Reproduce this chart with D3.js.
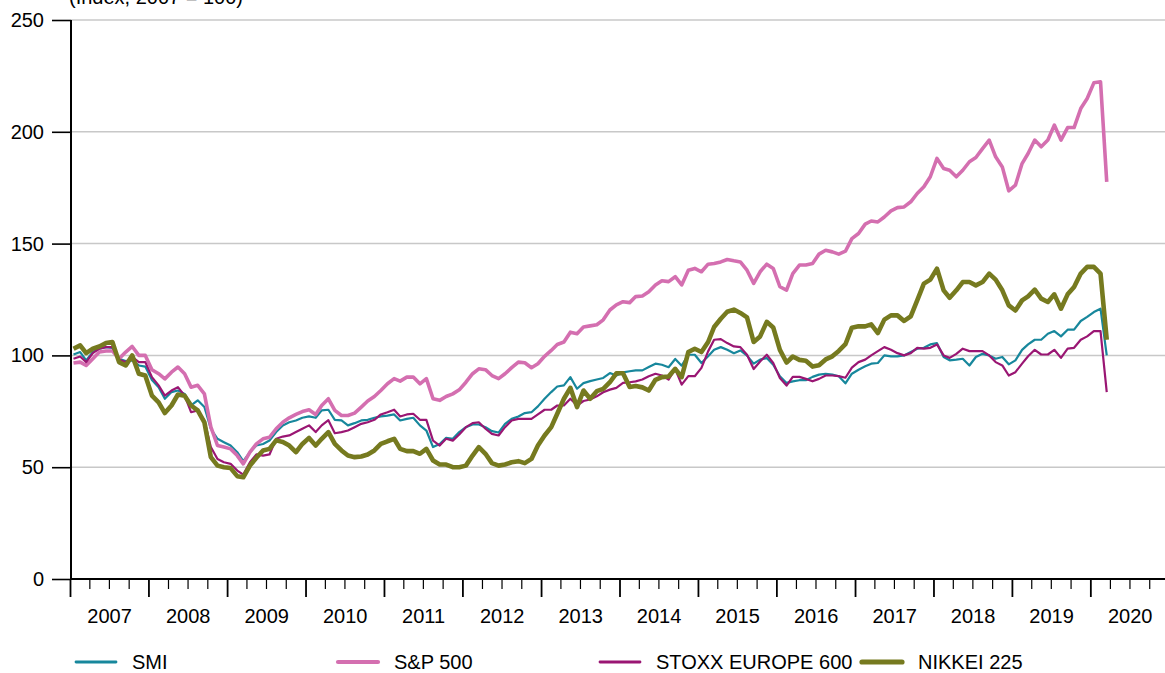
<!DOCTYPE html>
<html><head><meta charset="utf-8">
<script src="https://cdn.jsdelivr.net/npm/d3@7"></script>
<style>
html,body{margin:0;padding:0;background:#fff;}
svg{display:block;font-family:"Liberation Sans",Arial,Helvetica,sans-serif;}
</style></head>
<body><svg id="chart" width="1165" height="673"></svg>
<script>
// Monthly values, Jan 2007 .. Mar 2020 (index, 2007 = 100)
const startYear = 2007;
const yTicks = [0, 50, 100, 150, 200, 250];
const yearLabels = ["2007","2008","2009","2010","2011","2012","2013","2014","2015","2016","2017","2018","2019","2020"];
const seriesNames = ["SMI", "S&P 500", "STOXX EUROPE 600", "NIKKEI 225"];

const smi = [100.4,101.5,97.8,101.5,103,103.7,103.4,98.5,97.5,97.8,95.5,95,89,85.8,80.6,83.6,84.3,82.8,77.6,79.9,
76.9,67.2,62.7,61.2,59.7,56.7,52.7,56.7,59.7,60.4,61.9,65.7,68.7,70.1,70.9,72.1,72.7,72.1,75.4,75.7,
71.2,70.9,68.7,69.7,70.9,71.2,72.1,72.7,73.1,73.6,70.9,71.6,72.1,68.7,66.4,59,60.4,63.1,62.7,65.7,
67.9,69.1,69.1,67.9,66.1,65.5,69.4,71.6,72.7,74.2,74.6,77.2,80.6,83.6,86.1,86.6,90.3,85.1,87.6,88.5,
89.2,89.9,92.1,91,92.4,92.9,93.3,93.3,94.8,96.3,95.8,94.7,98.4,95.4,100.3,100.3,96.6,99.6,102.5,103.7,
102.5,101,102.2,99.9,96.3,98.1,98.8,95.8,90.7,87.7,88.4,88.9,88.9,90.4,91.4,91.8,91.4,90.7,87.5,
91.8,93.6,95.1,96.3,96.6,100,99.6,99.6,100,101.5,103,103.4,104.9,105.5,99.3,97.8,98.1,98.5,95.5,99.3,
100.7,100,98.5,99.3,96,97.8,102.5,104.9,107,107,109.7,110.9,108.5,111.5,111.5,115.4,117.2,119.4,120.9,100];

const sp500 = [96.6,97,95.5,98.5,101.5,102,102,98.5,101.5,104,100,100,93.6,91.8,89.5,92.5,94.8,91.8,85.8,86.6,
82.8,68,59.7,59,58.2,55.2,51.5,56.7,60.4,62.7,63.4,67.2,70.1,72.1,73.6,74.9,75.7,73.6,77.6,80.6,
75.4,73.1,73.1,74.2,76.9,79.6,81.6,84.3,87.3,89.6,88.5,90.3,90.3,87.3,89.6,80.6,79.9,81.6,82.8,84.6,
88,91.8,94,93.6,91,89.6,91.8,94.5,97,96.7,94.5,96.3,99.6,102.2,104.9,106,110.4,109.7,112.7,
113.2,113.7,115.9,120.3,122.6,124,123.6,126.3,126.6,128.5,131.5,133.4,133,135.2,131.5,138.1,138.9,137.4,140.8,141.1,
141.8,142.9,142.3,141.8,138.1,132.2,137.4,140.8,138.9,130.7,129.2,136.6,140.4,140.4,141.1,145.3,147,146.3,145.3,146.6,
152.2,154.5,158.7,160.1,159.7,161.9,164.6,166.1,166.4,168.7,172.4,175.4,179.9,188.1,183.6,182.8,179.9,182.8,186.6,188.5,
192.5,196.3,188.8,184.3,173.6,176.1,185.8,190.3,196.3,193.3,196.3,203,196.3,201.9,201.9,210.4,214.9,221.9,222.4,177.6];

const stoxx600 = [98.5,99.5,97,101,103,103.7,103.7,98,97,99.3,97,97,90.3,86.6,82,84.3,85.8,82,74.6,75.4,
71,59,53.7,52.2,51.5,48.5,46.7,52.2,55.7,55.2,55.7,62.7,63.7,64.2,65.7,67.2,68.7,65.7,68.7,71,
65.2,65.7,66.4,67.9,69.4,70.1,71.2,73.6,74.6,75.7,72.7,73.6,73.9,71.2,71.2,61.9,59.7,62.7,61.9,64.6,
67.9,69.7,70.1,67.2,64.9,64.2,67.9,70.9,71.6,71.6,71.6,73.6,75.7,75.7,77.6,77.6,80.6,77.6,79.6,80.3,
81.7,83.5,84.7,85.5,87.7,88,88.4,89.2,90.7,91.8,91,89.2,93.9,86.9,90.7,90.7,94.4,101.8,107,107.3,
105.5,104,103.7,100.3,93.9,97.3,100.3,96.6,89.9,86.5,90.4,90.4,89.5,88.4,89.5,91,91,90.7,90,
94.5,97,98.1,100,101.9,103.7,102.5,101,100,101,103.4,103,103.4,104.9,100,98.9,100.7,103,101.9,101.9,
101.9,100,97,95.5,91,92.5,96.3,99.6,102.5,100.4,100.4,102.5,98.9,103,103.4,107,108.5,110.9,110.9,83.6];

const nikkei225 = [103,104.5,101,103,104,105.5,106,97,95.5,100,91.8,91,82,79,74.2,77.6,82.5,82,77.6,75.4,
70.1,54.5,50.7,50,49.6,46,45.5,50.7,54.2,57.5,58.2,62,61.3,59.7,56.7,60.4,63.1,59.7,62.7,65.7,
60.4,57.5,55.2,54.5,54.8,55.7,57.5,60.4,61.6,62.7,58.2,57.2,57.2,56,58.2,53,51.2,51.2,50,50,
50.7,55.2,59,56,51.8,50.7,51.2,52.2,52.7,51.8,53.7,59.7,64.2,67.9,73.9,80.6,85.5,76.9,84.3,80.6,
84,85,88,92,92,85.9,86.3,85.7,84.3,89.1,90.3,90.6,94,90.3,101.5,103,101.5,106,112.7,116.4,
119.5,120.5,119,117,106,108.5,115,112.5,102.5,96.8,99.5,98,97.6,95,95.6,98.2,99.6,102,105,
112.4,113,113,113.9,110,116,117.9,117.9,115.4,117.5,124.6,132.1,133.9,138.8,129.1,125.8,129.1,132.8,132.8,131.3,
132.8,136.6,133.9,129.1,122.4,120.1,124.6,126.4,129.4,125.4,123.9,127.3,120.9,127.3,130.6,136.6,139.6,139.6,136.6,107];

const seriesValues = [smi, sp500, stoxx600, nikkei225];
const colors = ["#17879c", "#d46fb0", "#9a1673", "#767a1f"];
const widths = [2.2, 3.6, 2.2, 4.6];
const fontSize = 20;

const svg = d3.select("#chart");
const x = d3.scaleTime()
  .domain([new Date(2007,0,1), new Date(2021,0,1)])
  .range([70.5, 1169.5]);
const y = d3.scaleLinear().domain([0,250]).range([579,20]);

// grid
svg.append("g").selectAll("line").data(yTicks.filter(d=>d>0)).join("line")
  .attr("x1",71).attr("x2",1165).attr("y1",d=>y(d)).attr("y2",d=>y(d))
  .attr("stroke","#c8c8c8").attr("stroke-width",1.5);

// y axis
const yAxis = d3.axisLeft(y).tickValues(yTicks).tickSize(19).tickPadding(8);
const gy = svg.append("g").attr("transform","translate(71,0)").call(yAxis);
gy.select(".domain").remove();
gy.selectAll(".tick line").attr("stroke","#000").attr("stroke-width",1.6);
gy.selectAll(".tick text").attr("font-size",fontSize).attr("fill","#000")
  .attr("font-family","Liberation Sans, Arial, sans-serif");
svg.append("line").attr("x1",71).attr("x2",71).attr("y1",y(250)).attr("y2",579)
  .attr("stroke","#000").attr("stroke-width",2);

// title (partly cut at the top, as in the reference)
svg.append("text").attr("x",69).attr("y",4).attr("font-size",fontSize).attr("fill","#000")
  .text("(Index, 2007 = 100)");

// x axis
const quarters = d3.timeMonth.every(3).range(new Date(2007,0,1), new Date(2021,0,1));
const gx = svg.append("g");
gx.selectAll("line.q").data(quarters).join("line")
  .attr("x1",d=>x(d)).attr("x2",d=>x(d))
  .attr("y1",579).attr("y2",d=>d.getMonth()===0?597:589)
  .attr("stroke","#000").attr("stroke-width",d=>d.getMonth()===0?1.8:1.2);
svg.append("line").attr("x1",70).attr("x2",1165).attr("y1",579).attr("y2",579)
  .attr("stroke","#000").attr("stroke-width",2);
gx.selectAll("text").data(yearLabels).join("text")
  .attr("x",d=>x(new Date(+d,6,2)))
  .attr("y",623).attr("text-anchor","middle").attr("font-size",fontSize).attr("fill","#000")
  .text(d=>d);

// lines
const line = d3.line()
  .x((d,i)=>x(new Date(startYear, i, 15)))
  .y(d=>y(d));
svg.append("g").selectAll("path").data(seriesValues).join("path")
  .attr("d",d=>line(d)).attr("fill","none")
  .attr("stroke",(d,i)=>colors[i]).attr("stroke-width",(d,i)=>widths[i])
  .attr("stroke-linejoin","round").attr("stroke-linecap","butt");

// legend
const legX = [76, 338, 600, 862];
const lg = svg.append("g").selectAll("g").data(seriesNames).join("g")
  .attr("transform",(d,i)=>`translate(${legX[i]},662)`);
lg.append("line").attr("x1",0).attr("x2",40).attr("y1",0).attr("y2",0)
  .attr("stroke",(d,i)=>colors[i]).attr("stroke-width",(d,i)=>widths[i]+0.6)
  .attr("stroke-linecap","round");
lg.append("text").attr("x",56).attr("y",7).attr("font-size",fontSize).attr("fill","#000").text(d=>d);
</script></body></html>
